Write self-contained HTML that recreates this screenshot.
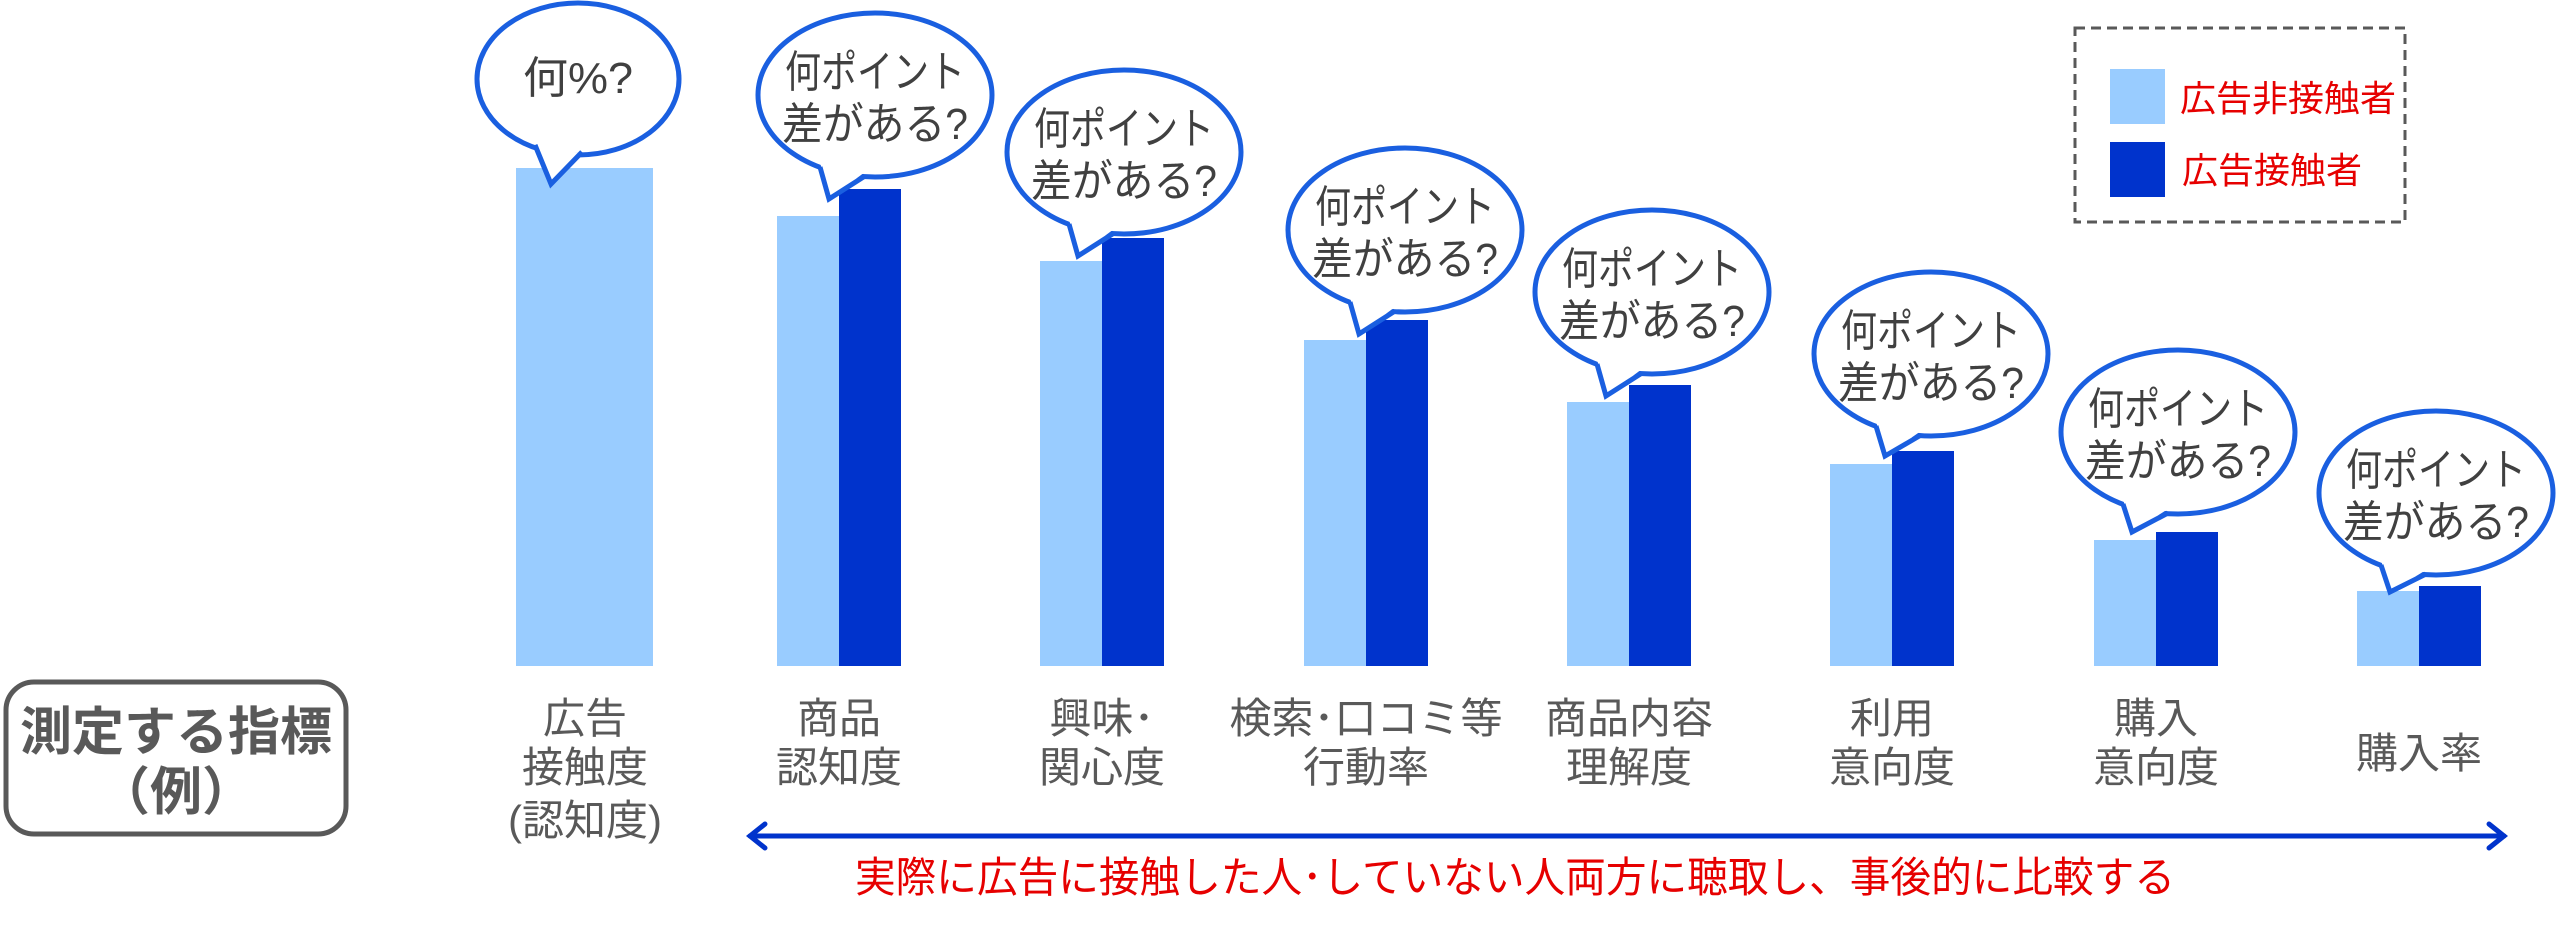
<!DOCTYPE html>
<html><head><meta charset="utf-8"><style>
html,body{margin:0;padding:0;background:#fff;}
svg{display:block;}
text{font-family:"Liberation Sans","Noto Sans CJK JP",sans-serif;}
</style></head><body>
<svg width="2560" height="929" viewBox="0 0 2560 929" xmlns="http://www.w3.org/2000/svg">
<rect x="6" y="682" width="340" height="152" rx="28" fill="#fff" stroke="#595959" stroke-width="5"/>
<text x="176" y="750" font-size="52" font-weight="bold" fill="#595959" text-anchor="middle">測定する指標</text>
<text x="176" y="810" font-size="52" font-weight="bold" fill="#595959" text-anchor="middle">（例）</text>

<g fill="#99CCFF">
<rect x="516" y="168" width="137" height="498"/>
<rect x="777" y="216" width="62" height="450"/>
<rect x="1040" y="261" width="62" height="405"/>
<rect x="1304" y="340" width="62" height="326"/>
<rect x="1567" y="402" width="62" height="264"/>
<rect x="1830" y="464" width="62" height="202"/>
<rect x="2094" y="540" width="62" height="126"/>
<rect x="2357" y="591" width="62" height="75"/>
</g>
<g fill="#0033CC">
<rect x="839" y="189" width="62" height="477"/>
<rect x="1102" y="238" width="62" height="428"/>
<rect x="1366" y="320" width="62" height="346"/>
<rect x="1629" y="385" width="62" height="281"/>
<rect x="1892" y="451" width="62" height="215"/>
<rect x="2156" y="532" width="62" height="134"/>
<rect x="2419" y="586" width="62" height="80"/>
</g>

<g stroke="#1A5FE0" stroke-width="5" fill="#fff">
<ellipse cx="578" cy="79" rx="101" ry="76"/>
<polygon points="535,145 551,184 580,153" stroke="none"/>
<polyline points="535,145 551,184 582,152" fill="none"/>
</g>
<text x="578" y="93" font-size="44" fill="#404040" text-anchor="middle" textLength="110" lengthAdjust="spacingAndGlyphs">何%?</text>

<g stroke="#1A5FE0" stroke-width="5" fill="#fff">
<ellipse cx="875" cy="95" rx="117" ry="82"/><polygon points="820,162 829,199 865,172" stroke="none"/><polyline points="820,167 829,199 865,176" fill="none"/>
<ellipse cx="1124" cy="152" rx="117" ry="82"/><polygon points="1069,219 1078,256 1114,229" stroke="none"/><polyline points="1069,224 1078,256 1114,233" fill="none"/>
<ellipse cx="1405" cy="230" rx="117" ry="82"/><polygon points="1350,297 1359,334 1395,307" stroke="none"/><polyline points="1350,302 1359,334 1395,311" fill="none"/>
<ellipse cx="1652" cy="292" rx="117" ry="82"/><polygon points="1597,359 1606,396 1642,369" stroke="none"/><polyline points="1597,364 1606,396 1642,373" fill="none"/>
<ellipse cx="1931" cy="354" rx="117" ry="82"/><polygon points="1876,421 1885,456 1921,431" stroke="none"/><polyline points="1876,426 1885,456 1921,435" fill="none"/>
<ellipse cx="2178" cy="432" rx="117" ry="82"/><polygon points="2123,499 2132,532 2168,509" stroke="none"/><polyline points="2123,504 2132,532 2168,513" fill="none"/>
<ellipse cx="2436" cy="493" rx="117" ry="82"/><polygon points="2381,560 2390,592 2426,570" stroke="none"/><polyline points="2381,565 2390,592 2426,574" fill="none"/>
</g>
<g font-size="44" fill="#404040" text-anchor="middle" lengthAdjust="spacingAndGlyphs">
<text x="875" y="87" textLength="180" lengthAdjust="spacingAndGlyphs">何ポイント</text><text x="875" y="139" textLength="186" lengthAdjust="spacingAndGlyphs">差がある?</text>
<text x="1124" y="144" textLength="180" lengthAdjust="spacingAndGlyphs">何ポイント</text><text x="1124" y="196" textLength="186" lengthAdjust="spacingAndGlyphs">差がある?</text>
<text x="1405" y="222" textLength="180" lengthAdjust="spacingAndGlyphs">何ポイント</text><text x="1405" y="274" textLength="186" lengthAdjust="spacingAndGlyphs">差がある?</text>
<text x="1652" y="284" textLength="180" lengthAdjust="spacingAndGlyphs">何ポイント</text><text x="1652" y="336" textLength="186" lengthAdjust="spacingAndGlyphs">差がある?</text>
<text x="1931" y="346" textLength="180" lengthAdjust="spacingAndGlyphs">何ポイント</text><text x="1931" y="398" textLength="186" lengthAdjust="spacingAndGlyphs">差がある?</text>
<text x="2178" y="424" textLength="180" lengthAdjust="spacingAndGlyphs">何ポイント</text><text x="2178" y="476" textLength="186" lengthAdjust="spacingAndGlyphs">差がある?</text>
<text x="2436" y="485" textLength="180" lengthAdjust="spacingAndGlyphs">何ポイント</text><text x="2436" y="537" textLength="186" lengthAdjust="spacingAndGlyphs">差がある?</text>
</g>

<g font-size="42" fill="#595959" text-anchor="middle">
<text x="585" y="733">広告</text><text x="585" y="782">接触度</text><text x="585" y="835">(認知度)</text>
<text x="839" y="733">商品</text><text x="839" y="782">認知度</text>
<text x="1102" y="733">興味･</text><text x="1102" y="782">関心度</text>
<text x="1366" y="733">検索･口コミ等</text><text x="1366" y="782">行動率</text>
<text x="1629" y="733">商品内容</text><text x="1629" y="782">理解度</text>
<text x="1892" y="733">利用</text><text x="1892" y="782">意向度</text>
<text x="2156" y="733">購入</text><text x="2156" y="782">意向度</text>
<text x="2419" y="768">購入率</text>
</g>

<g stroke="#0033CC" stroke-width="5" fill="none" stroke-linecap="round">
<line x1="750" y1="836" x2="2504" y2="836"/>
<polyline points="765,824 750,836 765,848"/>
<polyline points="2489,824 2504,836 2489,848"/>
</g>
<text x="1515" y="892" font-size="42" fill="#E60000" text-anchor="middle" textLength="1320" lengthAdjust="spacingAndGlyphs">実際に広告に接触した人･していない人両方に聴取し、事後的に比較する</text>

<rect x="2075" y="28" width="330" height="194" fill="none" stroke="#595959" stroke-width="3" stroke-dasharray="10,6"/>
<rect x="2110" y="69" width="55" height="55" fill="#99CCFF"/>
<rect x="2110" y="142" width="55" height="55" fill="#0033CC"/>
<text x="2180" y="111" font-size="36" fill="#E60000">広告非接触者</text>
<text x="2182" y="183" font-size="36" fill="#E60000">広告接触者</text>
</svg>
</body></html>
